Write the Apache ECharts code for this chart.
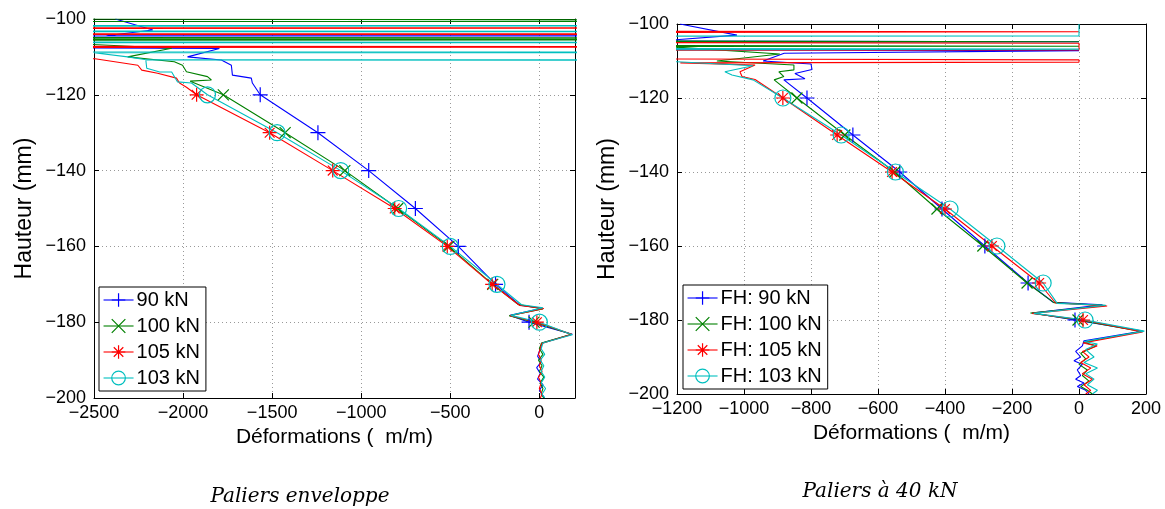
<!DOCTYPE html>
<html>
<head>
<meta charset="utf-8">
<script src="https://cdn.jsdelivr.net/npm/echarts@6/dist/echarts.min.js"></script>
<style>
html,body{margin:0;padding:0;background:#fff;}
#c{width:1165px;height:509px;}
</style>
</head>
<body>
<div id="c"></div>
<script>
// ---------- DATA ----------
const markerHeights = [-120, -130, -140, -150, -160, -170, -180];
const yTicks = [-200, -180, -160, -140, -120, -100];
const leftXTicks = [-2500, -2000, -1500, -1000, -500, 0];
const rightXTicks = [-1200, -1000, -800, -600, -400, -200, 0, 200];

const leftNames = ['90 kN', '100 kN', '105 kN', '103 kN'];
const rightNames = ['FH: 90 kN', 'FH: 100 kN', 'FH: 105 kN', 'FH: 103 kN'];

// Left chart "Paliers enveloppe": [strain, height]
const left90 = [[-2380,-100],[-2170,-102.9],[-2430,-104.4],[5000,-104.45],[-5000,-104.5],[-2600,-107.6],[-1796,-107.8],[-1975,-110],[-1785,-110.8],[-1729,-112.2],[-1723,-114.8],[-1617,-115.6],[-1611,-116.9],[-1567,-120],[-1243,-130],[-958,-140],[-696,-150],[-455,-160],[-246,-170],[-110,-175.5],[15,-176.3],[-165,-178.2],[-58,-180],[185,-183.2],[15,-185.5],[5,-187],[-10,-189],[10,-190.5],[-15,-192],[5,-193.5],[-10,-195],[20,-196.5],[0,-198],[15,-199],[30,-200]];
const left100 = [[-2700,-100],[-2700,-100.5],[5000,-100.6],[-5000,-100.7],[-2700,-104.9],[5000,-105.0],[-5000,-105.1],[-2700,-105.4],[5000,-105.5],[-5000,-105.6],[-2560,-106.6],[-2064,-107.7],[-2311,-110],[-2049,-111.3],[-2003,-112.2],[-1981,-113.9],[-1863,-115.2],[-1841,-116.1],[-1960,-116.4],[-1774,-120],[-1427,-130],[-1092,-140],[-795,-150],[-508,-160],[-262,-170],[-120,-175.3],[20,-176.5],[-170,-178.3],[-30,-180],[180,-183.2],[12,-185.5],[0,-187],[20,-188.5],[-5,-190],[15,-191.5],[0,-193],[25,-194.5],[5,-196],[20,-197.5],[10,-199],[25,-200]];
const left105 = [[-2700,-100],[-2700,-102.3],[5000,-102.4],[-5000,-102.5],[-2700,-103.9],[5000,-104.0],[-5000,-104.1],[-2700,-107.2],[5000,-107.4],[-5000,-107.5],[-2700,-110.2],[-2494,-110.5],[-2254,-112.2],[-2232,-113.5],[-2143,-114.3],[-2037,-115.6],[-2020,-116.9],[-1981,-118],[-1924,-120],[-1514,-130],[-1160,-140],[-812,-150],[-517,-160],[-265,-170],[-110,-175.6],[25,-176.4],[-165,-178.3],[-14,-180],[182,-183.2],[14,-185.6],[5,-187],[-5,-188.5],[10,-190],[0,-191.5],[15,-193],[-5,-194.5],[10,-196],[0,-197.5],[15,-199],[5,-200]];
const left103 = [[-2700,-100],[-2700,-101.7],[5000,-101.8],[-5000,-101.9],[-2700,-103.2],[5000,-103.3],[-5000,-103.4],[-2700,-106.1],[5000,-106.2],[-5000,-106.3],[-2700,-108.7],[5000,-108.8],[-2500,-108.9],[-2311,-110],[-2215,-110.7],[5000,-110.8],[-2209,-110.9],[-2204,-113],[-2131,-114],[-2064,-114],[-2031,-116.6],[-1953,-116.9],[-1863,-120],[-1472,-130],[-1115,-140],[-790,-150],[-500,-160],[-238,-170],[-100,-175.4],[20,-176.2],[-160,-178.2],[0,-180],[185,-183.3],[20,-185.5],[10,-187],[30,-188.5],[5,-190],[25,-191.5],[10,-193],[30,-194.5],[10,-196],[35,-197.5],[15,-199],[30,-200]];

// Right chart "Paliers à 40 kN": [strain, height]
const right90 = [[-1191,-100],[-1021,-103],[-1250,-104.6],[0,-104.8],[-1500,-104.9],[-1500,-106.9],[0,-107.2],[-880,-107.9],[-943,-110],[-800,-110.8],[-797,-112.3],[-848,-113.4],[-818,-114.8],[-881,-115.1],[-812,-120],[-675,-130],[-535,-140],[-409,-150],[-281,-160],[-152,-170],[-77,-175.2],[70,-175.9],[-140,-178.1],[-12,-180],[190,-183],[15,-185.6],[10,-187],[-10,-188.5],[5,-190],[-15,-191],[10,-192],[-5,-193.5],[5,-195],[-10,-196],[15,-197],[-5,-198],[20,-199],[30,-200]];
const right100 = [[-1500,-100],[-1500,-104.6],[0,-104.8],[-1500,-104.9],[-1500,-105.8],[0,-106.0],[-1500,-106.1],[-1210,-106.2],[-893,-108.1],[-1081,-110],[-851,-111.1],[-851,-112.4],[-896,-112.9],[-881,-114.2],[-910,-115.1],[-842,-120],[-699,-130],[-550,-140],[-424,-150],[-287,-160],[-155,-170],[-75,-175.3],[80,-176.1],[-145,-178.1],[-3,-180],[185,-183.1],[14,-186],[50,-187],[5,-189],[20,-190.5],[0,-192],[25,-193.5],[10,-195],[30,-196.5],[5,-198],[25,-199],[40,-200]];
const right105 = [[-1500,-100],[-1500,-101.9],[0,-102.1],[-1500,-102.3],[-1500,-105.0],[0,-105.2],[0,-107.0],[-1500,-107.1],[-1500,-109.4],[0,-109.7],[0,-110.3],[-1190,-110.5],[-967,-111.1],[-1012,-112.9],[-1006,-114.2],[-967,-115],[-884,-120],[-722,-130],[-558,-140],[-400,-150],[-260,-160],[-119,-170],[-70,-175.4],[84,-176.2],[-140,-178.2],[12,-180],[190,-183.2],[12,-186.2],[54,-187],[10,-188.5],[30,-190],[5,-191.5],[35,-193],[10,-194.5],[40,-196],[15,-197.5],[35,-199],[20,-200]];
const right103 = [[0,-100],[0,-103.2],[-1500,-103.3],[-1500,-106.6],[0,-106.8],[-1500,-107.0],[-1500,-110.0],[-1200,-110.2],[-973,-111.3],[-1057,-112.9],[-1036,-113.8],[-973,-115.1],[-884,-120],[-710,-130],[-548,-140],[-385,-150],[-245,-160],[-107,-170],[-65,-175.5],[80,-176.0],[-135,-178.2],[18,-180],[195,-183.0],[15,-185.8],[55,-186.5],[20,-188],[45,-190],[15,-191.5],[55,-193],[20,-194.5],[45,-196],[25,-197.5],[55,-199],[40,-200]];

// ---------- STYLE ----------
const colors = ['#0000ff', '#008000', '#ff0000', '#00bfbf'];
const symbols = [
  'path://M0,-10L0,10M-10,0L10,0',
  'path://M-10,-10L10,10M-10,10L10,-10',
  'path://M0,-10L0,10M-10,0L10,0M-7,-7L7,7M-7,7L7,-7',
  'path://M10,0A10,10,0,1,1,-10,0A10,10,0,1,1,10,0Z'
];
const symSizes = [15, 11, 14, 16];
const FONT = 'Liberation Sans, Arial, sans-serif';
const minus = v => String(v).replace('-', '\u2212');

function mkSeries(name, data, i, axisIdx) {
  return {
    type: 'line', name: name, data: data,
    xAxisIndex: axisIdx, yAxisIndex: axisIdx,
    symbol: symbols[i],
    symbolSize: function (val) { return markerHeights.indexOf(val[1]) >= 0 ? symSizes[i] : 0; },
    showSymbol: true,
    lineStyle: { color: colors[i], width: 1.1 },
    itemStyle: { color: 'none', borderColor: colors[i], borderWidth: 1.2 },
    emphasis: { disabled: true },
    silent: true, animation: false, clip: true
  };
}

function mkAxes(gridIndex, xmin, xmax, xint, hideMax, xGap, yGap) {
  const grid = '#999';
  const line = { show: true, onZero: false, lineStyle: { color: '#000', width: 1 } };
  const tick = { show: true, inside: true, length: 5, lineStyle: { color: '#000' } };
  return {
    x: [
      { type: 'value', gridIndex, min: xmin, max: xmax, interval: xint, position: 'bottom',
        axisLine: line, axisTick: tick,
        axisLabel: { color: '#000', fontSize: 18, fontFamily: FONT, margin: 6,
          showMaxLabel: !hideMax, formatter: v => minus(v) },
        splitLine: { show: true, lineStyle: { color: grid, type: [1, 3], width: 1 } },
        name: 'Déformations (  m/m)', nameLocation: 'middle', nameGap: xGap,
        nameTextStyle: { color: '#000', fontSize: 21, fontFamily: FONT } },
      { type: 'value', gridIndex, min: xmin, max: xmax, interval: xint, position: 'top',
        axisLine: line, axisTick: tick,
        axisLabel: { show: false }, splitLine: { show: false } }
    ],
    y: [
      { type: 'value', gridIndex, min: -200, max: -100, interval: 20, position: 'left',
        axisLine: line, axisTick: tick,
        axisLabel: { color: '#000', fontSize: 18, fontFamily: FONT, margin: 8, formatter: v => minus(v) },
        splitLine: { show: true, lineStyle: { color: grid, type: [1, 3], width: 1 } },
        name: 'Hauteur (mm)', nameLocation: 'middle', nameGap: yGap, nameRotate: 90,
        nameTextStyle: { color: '#000', fontSize: 23, fontFamily: FONT } },
      { type: 'value', gridIndex, min: -200, max: -100, interval: 20, position: 'right',
        axisLine: line, axisTick: tick,
        axisLabel: { show: false }, splitLine: { show: false } }
    ]
  };
}

const A = mkAxes(0, -2500, 200, 500, true, 29, 58);
const B = mkAxes(1, -1200, 200, 200, false, 28, 58);

function mkLegend(names, left, top) {
  return {
    orient: 'vertical', left: left, top: top, selectedMode: false,
    backgroundColor: '#fff', borderColor: '#000', borderWidth: 1,
    padding: [3, 6, 3, 4], itemGap: 6, itemWidth: 30, itemHeight: 17,
    textStyle: { color: '#000', fontSize: 20, fontFamily: FONT, padding: [0, 0, 0, -2] },
    data: names.map((n, i) => ({ name: n,
      lineStyle: { color: colors[i], width: 1.1 },
      itemStyle: { color: 'none', borderColor: colors[i], borderWidth: 1.2 } }))
  };
}

const leftData = [left90, left100, left105, left103];
const rightData = [right90, right100, right105, right103];

const option = {
  backgroundColor: '#fff',
  animation: false,
  grid: [
    { left: 94, top: 19, width: 481, height: 379, show: false },
    { left: 677, top: 24, width: 469, height: 370, show: false }
  ],
  xAxis: [A.x[0], A.x[1], B.x[0], B.x[1]],
  yAxis: [A.y[0], A.y[1], B.y[0], B.y[1]],
  legend: [mkLegend(leftNames, 99, 287), mkLegend(rightNames, 683, 285)],
  series: [
    ...leftData.map((d, i) => mkSeries(leftNames[i], d, i, 0)),
    ...rightData.map((d, i) => mkSeries(rightNames[i], d, i, 2))
  ],
  graphic: [
    { type: 'text', style: { text: 'Paliers enveloppe', font: 'italic 20px "DejaVu Serif", serif', fill: '#000', textAlign: 'center', textVerticalAlign: 'middle' }, position: [300, 497] },
    { type: 'text', style: { text: 'Paliers à 40 kN', font: 'italic 20px "DejaVu Serif", serif', fill: '#000', textAlign: 'center', textVerticalAlign: 'middle' }, position: [880, 492] }
  ]
};
option.xAxis[2].gridIndex = 1; option.xAxis[3].gridIndex = 1;
option.yAxis[2].gridIndex = 1; option.yAxis[3].gridIndex = 1;

const chart = echarts.init(document.getElementById('c'), null, { renderer: 'canvas' });
chart.setOption(option);
</script>
</body>
</html>
